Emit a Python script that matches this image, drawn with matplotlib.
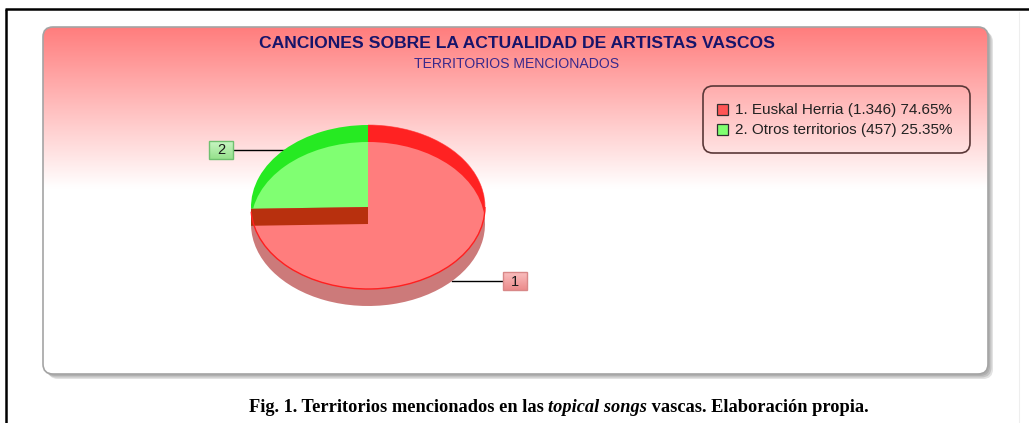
import numpy as np
import matplotlib
matplotlib.use("Agg")
import matplotlib.pyplot as plt
from matplotlib.patches import FancyBboxPatch, Ellipse, Polygon, Arc, Rectangle

# ---------------- data ----------------
categories = ["Euskal Herria", "Otros territorios"]
counts = [1346, 457]
slice_numbers = ["1", "2"]
title = "CANCIONES SOBRE LA ACTUALIDAD DE ARTISTAS VASCOS"
subtitle = "TERRITORIOS MENCIONADOS"
caption_parts = [("Fig. 1. Territorios mencionados en las ", "normal"),
                 ("topical songs", "italic"),
                 (" vascas. Elaboración propia.", "normal")]

# ---------------- styles ----------------
light_cols = ["#FF7D7D", "#80FF72"]
bright_cols = ["#FF2222", "#26EA22"]
side_cols = ["#CC7A7A", "#3a9a3a"]
legend_cols = ["#FF5555", "#80FF70"]
box_cols = [((250, 190, 190), (236, 140, 140), "#D88888"),
            ((200, 245, 195), (150, 225, 140), "#70C070")]
wall_col = "#B8300E"

W, H = 1029, 423
fig = plt.figure(figsize=(W / 100, H / 100), dpi=100)
bg = fig.add_axes([0, 0, 1, 1])
bg.axis("off")

# outer frame
bg.plot([5, W], [9.5, 9.5], color="black", lw=1.8, solid_capstyle="butt", zorder=1)
bg.plot([6, 6], [9, H], color="black", lw=1.8, solid_capstyle="butt", zorder=1)
bg.plot([1018.5, 1018.5], [12, H], color="#eeeeee", lw=0.8, zorder=1)

# panel with shadow
px0, py0, px1, py1 = 43, 27, 988, 374
for off, c in [(5, "#e2e2e2"), (3.5, "#c4c4c4"), (2, "#b0b0b0")]:
    bg.add_patch(FancyBboxPatch((px0 + off, py0 + off), px1 - px0, py1 - py0,
                                boxstyle="round,pad=0,rounding_size=10",
                                fc=c, ec="none", zorder=1.5))
panel = FancyBboxPatch((px0, py0), px1 - px0, py1 - py0,
                       boxstyle="round,pad=0,rounding_size=10",
                       fc="white", ec="none", zorder=2)
bg.add_patch(panel)
ys = np.linspace(py0, py1, 400)
t = np.clip((ys - py0) / (188 - py0), 0, 1)
top = np.array([255, 125, 125]) / 255.0
col = top[None, :] * (1 - t[:, None]) + t[:, None]
img = np.repeat(col[:, None, :], 2, axis=1)
im = bg.imshow(img, extent=[px0, px1, py1, py0], aspect="auto",
               interpolation="bilinear", zorder=2.1)
im.set_clip_path(panel)
bg.add_patch(FancyBboxPatch((px0, py0), px1 - px0, py1 - py0,
                            boxstyle="round,pad=0,rounding_size=10",
                            fc="none", ec="#a4a4a4", lw=1.2, zorder=2.2))

# titles
bg.text(517, 44, title, ha="center", va="center", fontsize=12.6,
        fontweight="bold", family="Liberation Sans", color="#17146A", zorder=4)
bg.text(517, 64.5, subtitle, ha="center", va="center", fontsize=10.1,
        family="Liberation Sans", color="#3A2A8C", zorder=4)

# legend
total = sum(counts)
bg.add_patch(FancyBboxPatch((703, 86), 267, 67, boxstyle="round,pad=0,rounding_size=10",
                            fc="none", ec="#5A3838", lw=1.2, zorder=4))
for i, (cat, v) in enumerate(zip(categories, counts)):
    yc = 110 + 20 * i
    bg.add_patch(Rectangle((717, yc - 5.5), 11, 11, fc=legend_cols[i], ec="#303030",
                           lw=0.9, zorder=5))
    vs = f"{v:,}".replace(",", ".")
    bg.text(735, yc, f"{slice_numbers[i]}. {cat} ({vs}) {100 * v / total:.2f}%",
            ha="left", va="center", fontsize=11, family="Liberation Sans",
            color="#222222", zorder=5)

# ---------------- 3D pie ----------------
cx, cy, rx, ry, depth = 368, 207, 117, 82, 17
d = depth / ry
pax = fig.add_axes([(cx - rx) / W, (H - (cy + ry + depth)) / H, 2 * rx / W,
                    (2 * ry + depth) / H])
pie_kw = dict(startangle=90, counterclock=False, wedgeprops=dict(linewidth=0))
pax.pie(counts, colors=side_cols, center=(0, -d), **pie_kw)
pax.pie(counts, colors=bright_cols, center=(0, 0), **pie_kw)
clip_ell = Ellipse((0, -d), 2, 2, transform=pax.transData)
face, _ = pax.pie(counts, colors=light_cols, center=(0, 0), **pie_kw)
for w in face:
    w.set_clip_on(True)
    w.set_clip_path(clip_ell)
a_deg = 90 - 360 * counts[0] / total
a = np.deg2rad(a_deg)
pax.add_patch(Polygon([(0, 0), (np.cos(a), np.sin(a)), (np.cos(a), np.sin(a) - d), (0, -d)],
                      closed=True, fc=wall_col, ec="none", zorder=5, clip_on=False))
pax.add_patch(Arc((0, 0), 2, 2, theta1=a_deg + 360 + 2, theta2=360, color="#FF2020",
                  lw=1.0, zorder=6, clip_on=False))
pax.add_patch(Arc((0, 0), 2, 2, theta1=0, theta2=90, color="#FF3030", lw=0.6,
                  alpha=0.6, zorder=6, clip_on=False))
pax.set_xlim(-1, 1)
pax.set_ylim(-1 - d, 1)
pax.set_aspect("auto")
pax.axis("off")

# slice number labels
cum = 0.0
for i, v in enumerate(counts):
    f = v / total
    m = np.deg2rad(90 - 360 * (cum + f / 2))
    cum += f
    x = cx + rx * np.cos(m)
    y = cy - ry * np.sin(m) + (depth if np.sin(m) < 0 else 0)
    sgn = 1 if np.cos(m) >= 0 else -1
    xe = x + sgn * 51
    bw, bh = 24, 18
    bg.plot([x, xe], [y, y], color="black", lw=1.0, zorder=6)
    bx = xe if sgn > 0 else xe - bw
    ctop, cbot, ec = box_cols[i]
    tt = np.linspace(0, 1, 20)[:, None]
    g = (np.array(ctop)[None, :] * (1 - tt) + np.array(cbot)[None, :] * tt) / 255.0
    box = Rectangle((bx, y - bh / 2), bw, bh, fc="none", ec=ec, lw=1.0, zorder=6.1)
    bg.add_patch(box)
    gim = bg.imshow(np.repeat(g[:, None, :], 2, axis=1),
                    extent=[bx, bx + bw, y + bh / 2, y - bh / 2], aspect="auto",
                    interpolation="bilinear", zorder=6)
    gim.set_clip_path(box)
    bg.text(bx + bw / 2, y + 0.5, slice_numbers[i], ha="center", va="center",
            fontsize=10.5, family="Liberation Sans", color="#1a1a1a", zorder=7)

# caption
renderer = fig.canvas.get_renderer()
texts = []
for s, style in caption_parts:
    tx = bg.text(0, 408, s, family="Liberation Serif", fontweight="bold",
                 fontstyle=style, fontsize=13.2, va="center", ha="left", zorder=4)
    texts.append(tx)
bg.set_xlim(0, W)
bg.set_ylim(H, 0)
widths = [tx.get_window_extent(renderer).width for tx in texts]
x = 559 - sum(widths) / 2
for tx, wdt in zip(texts, widths):
    tx.set_x(x)
    x += wdt

bg.set_xlim(0, W)
bg.set_ylim(H, 0)
fig.savefig("out.png", dpi=100)
